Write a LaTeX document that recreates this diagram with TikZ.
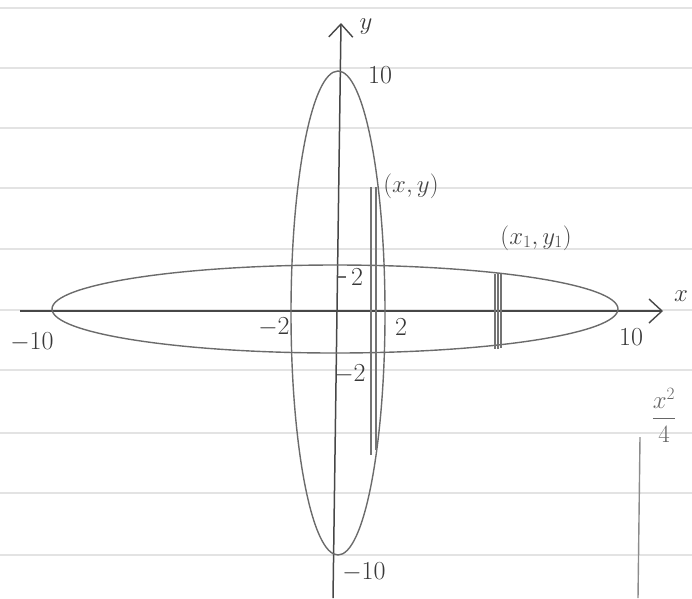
\documentclass[tikz,border=0pt]{standalone}
\usepackage{amsmath}
\usepackage{tikz}
\usetikzlibrary{arrows.meta,positioning}

\begin{document}
\begin{tikzpicture}[
  x=1pt, y=-1pt,
  ruled/.style={draw=black!11, line width=1.3pt},
  axis/.style={
    -{Straight Barb[length=13pt,width=24pt,line width=1.4pt]},
    draw=black!72, line width=1.5pt
  },
  curve/.style={draw=black!58, line width=1.4pt},
  strip/.style={draw=black!55, line width=1.1pt},
  lbl/.style={font=\fontsize{26}{28}\selectfont, text=black!78, inner sep=1pt},
  ptl/.style={font=\fontsize{23}{25}\selectfont, text=black!72, inner sep=1pt},
]
\useasboundingbox (0,0) rectangle (692,598);

%% ruled paper
\foreach \ry in {8,68,128,188,249,310,370,433,493,555}
  \draw[ruled] (0,\ry) -- (692,\ry);

%% axes
\coordinate (xneg) at (20,311);
\coordinate (xpos) at (663,311);
\coordinate (yneg) at (333,598);
\coordinate (ypos) at (341,23);
\draw[axis] (xneg) -- (xpos);
\draw[axis] (yneg) -- (ypos);

%% the two ellipses
\draw[curve] (335,309) ellipse [x radius=283, y radius=44];
\draw[curve] (338,313) ellipse [x radius=47, y radius=242];

%% thin strips
\draw[strip] (371,187) -- (371,455);
\draw[strip] (376,187) -- (376,450);
\draw[strip] (495,274) -- (495,349);
\draw[strip] (498,273) -- (498,349);
\draw[strip] (501,274) -- (501,348);

%% tick at y = 2
\coordinate (tka) at (338,277);
\coordinate (tkb) at (346,277);
\draw[curve] (tka) -- (tkb);

%% axis labels
\node[lbl] (ylab) at (366,27) {$y$};
\node[lbl] (xlab) at (681,296) {$x$};

\node[lbl] (ytop)  at (380,75)  {10};
\node[lbl] (ybot)  at (364,572) {$-$10};
\node[lbl] (xleft) at (32,342)  {$-$10};
\node[lbl] (xrght) at (631,337) {10};

\node[lbl] (ytwo)  at (357,277) {2};
\node[lbl] (ymtwo) at (350,374) {$-$2};
\node[lbl] (xmtwo) at (274,327) {$-$2};
\node[lbl] (xtwo)  at (401,327) {2};

%% points
\node[ptl] (pxy)  at (411,186) {$(x,y)$};
\node[ptl] (pxy1) at (536,238) {$(x_1,y_1)$};

%% margin note, bottom right
\node[ptl, text=black!60] (frac) at (664,415) {$\displaystyle\frac{x^2}{4}$};
\coordinate (mtop) at (640,437);
\coordinate (mbot) at (638,598);
\draw[curve, draw=black!45] (mtop) -- (mbot);
\end{tikzpicture}
\end{document}
